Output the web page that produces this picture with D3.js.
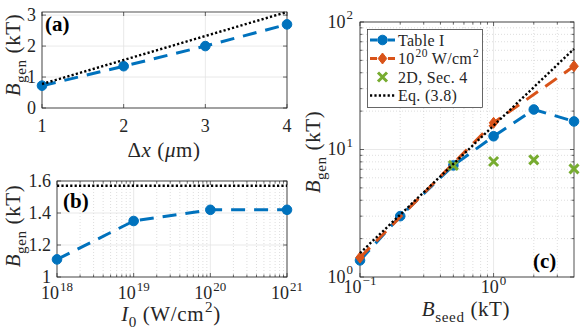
<!DOCTYPE html>
<html>
<head>
<meta charset="utf-8">
<script src="https://cdn.jsdelivr.net/npm/d3@7"></script>
<style>
  body { margin: 0; background: #fff; }
</style>
</head>
<body>
<div class="root"></div>
<script>
// panel (a): B_gen vs grid spacing
var dxVals = [1, 2, 3, 4],
    bgenDx = [0.72, 1.35, 2.0, 2.7],
    eqDx = [0.775, 1.55, 2.325, 3.1];

// panel (b): B_gen vs intensity
var intensity = [1e18, 1e19, 1e20, 1e21],
    bgenI = [1.11, 1.35, 1.42, 1.42],
    eqI = 1.57;

// panel (c): B_gen vs B_seed
var bseed = [0.1, 0.2, 0.5, 1, 2, 4],
    tableI = [1.35, 3.0, 7.5, 12.7, 20.6, 16.6],
    bseedHi = [0.1, 1, 4],
    hiI = [1.42, 16.2, 45],
    bseed2d = [0.5, 1, 2, 4],
    sim2d = [7.5, 8.05, 8.3, 7.05],
    bseedEq = [0.1, 4],
    eqSeed = [1.54, 61.6];

var ticksA = {x: [1, 2, 3, 4], y: [0, 1, 2, 3]},
    ticksB = {x: [1e18, 1e19, 1e20, 1e21], y: [1, 1.2, 1.4, 1.6]},
    ticksC = {x: [0.1, 1], y: [1, 10, 100]};

var legendNames = [
  [{t: "Table I"}],
  [{t: "10"}, {t: "20", sup: true}, {t: " W/cm"}, {t: "2", sup: true}],
  [{t: "2D, Sec. 4"}],
  [{t: "Eq. (3.8)"}]
];

var blue = "#0072BD", orange = "#D95319", green = "#77AC30",
    axisCol = "#262626", gridCol = "#e3e3e3", minorCol = "#c8c8c8",
    serif = "'Liberation Serif'";

var svg = d3.select(".root").append("svg")
  .attr("width", 582).attr("height", 332);

// text with italic / sub / sup runs
function mtext(g, x, y, parts, size, anchor) {
  var t = g.append("text").attr("x", x).attr("y", y)
    .attr("font-family", serif)
    .attr("font-size", size).attr("fill", axisCol)
    .attr("text-anchor", anchor || "middle");
  var shift = 0;
  parts.forEach(function(p) {
    var target = p.sub ? size * 0.28 : p.sup ? -size * 0.45 : 0;
    var s = t.append("tspan").text(p.t).attr("dy", target - shift);
    shift = target;
    if (p.i) s.attr("font-style", "italic");
    if (p.sub || p.sup) s.attr("font-size", size * 0.72);
    if (p.sup) s.attr("dx", 1);
  });
  return t;
}

function logMinor(dom) {
  var out = [];
  var lo = Math.floor(Math.log10(dom[0])), hi = Math.ceil(Math.log10(dom[1]));
  for (var e = lo; e < hi; e++)
    for (var k = 2; k <= 9; k++) {
      var v = k * Math.pow(10, e);
      if (v > dom[0] && v < dom[1]) out.push(v);
    }
  return out;
}

function frame(g, x, y, tx, ty, minX, minY) {
  var x0 = x.range()[0], x1 = x.range()[1], y0 = y.range()[0], y1 = y.range()[1];
  // minor grid
  g.selectAll(".mgx").data(minX).enter().append("line")
    .attr("x1", d => x(d)).attr("x2", d => x(d)).attr("y1", y0).attr("y2", y1)
    .attr("stroke", minorCol).attr("stroke-width", 0.6).attr("stroke-dasharray", "1,2");
  g.selectAll(".mgy").data(minY).enter().append("line")
    .attr("y1", d => y(d)).attr("y2", d => y(d)).attr("x1", x0).attr("x2", x1)
    .attr("stroke", minorCol).attr("stroke-width", 0.6).attr("stroke-dasharray", "1,2");
  // major grid
  g.selectAll(".gx").data(tx).enter().append("line")
    .attr("x1", d => x(d)).attr("x2", d => x(d)).attr("y1", y0).attr("y2", y1)
    .attr("stroke", gridCol).attr("stroke-width", 0.8);
  g.selectAll(".gy").data(ty).enter().append("line")
    .attr("y1", d => y(d)).attr("y2", d => y(d)).attr("x1", x0).attr("x2", x1)
    .attr("stroke", gridCol).attr("stroke-width", 0.8);
  // ticks on all four sides
  var tk = g.append("g").attr("stroke", axisCol).attr("stroke-width", 0.7);
  tx.concat(minX).forEach(function(d, i) {
    var L = i < tx.length ? 4 : 2.5;
    tk.append("line").attr("x1", x(d)).attr("x2", x(d)).attr("y1", y0).attr("y2", y0 - L);
    tk.append("line").attr("x1", x(d)).attr("x2", x(d)).attr("y1", y1).attr("y2", y1 + L);
  });
  ty.concat(minY).forEach(function(d, i) {
    var L = i < ty.length ? 4 : 2.5;
    tk.append("line").attr("y1", y(d)).attr("y2", y(d)).attr("x1", x0).attr("x2", x0 + L);
    tk.append("line").attr("y1", y(d)).attr("y2", y(d)).attr("x1", x1).attr("x2", x1 - L);
  });
  g.append("rect").attr("x", x0).attr("y", y1).attr("width", x1 - x0).attr("height", y0 - y1)
    .attr("fill", "none").attr("stroke", axisCol).attr("stroke-width", 0.8);
}

function dashed(g, x, y, xs, ys, col) {
  var line = d3.line().x(d => x(d[0])).y(d => y(d[1]));
  g.append("path").datum(d3.zip(xs, ys)).attr("d", line)
    .attr("fill", "none").attr("stroke", col).attr("stroke-width", 3)
    .attr("stroke-dasharray", "14,9");
}
function dotted(g, x, y, xs, ys) {
  var line = d3.line().x(d => x(d[0])).y(d => y(d[1]));
  g.append("path").datum(d3.zip(xs, ys)).attr("d", line)
    .attr("fill", "none").attr("stroke", "#000").attr("stroke-width", 2.4)
    .attr("stroke-dasharray", "2.2,2.2");
}
function circles(g, x, y, xs, ys) {
  g.selectAll(null).data(d3.zip(xs, ys)).enter().append("circle")
    .attr("cx", d => x(d[0])).attr("cy", d => y(d[1])).attr("r", 4.8)
    .attr("fill", blue).attr("stroke", blue);
}
function diamonds(g, x, y, xs, ys) {
  g.selectAll(null).data(d3.zip(xs, ys)).enter().append("path")
    .attr("d", "M0,-5.5L4.3,0L0,5.5L-4.3,0Z")
    .attr("transform", d => "translate(" + x(d[0]) + "," + y(d[1]) + ")")
    .attr("fill", orange).attr("stroke", orange);
}
function crosses(g, x, y, xs, ys) {
  g.selectAll(null).data(d3.zip(xs, ys)).enter().append("path")
    .attr("d", "M-4.5,-4.5L4.5,4.5M-4.5,4.5L4.5,-4.5")
    .attr("transform", d => "translate(" + x(d[0]) + "," + y(d[1]) + ")")
    .attr("stroke", green).attr("stroke-width", 3).attr("fill", "none");
}
function ylabel(x, y, parts) {
  var g = svg.append("g").attr("transform", "translate(" + x + "," + y + ") rotate(-90)");
  mtext(g, 0, 0, parts, 21).attr("letter-spacing", 0.6);
}
var bgenParts = [{t: "B", i: true}, {t: "gen", sub: true}, {t: " (kT)"}];
var pow10 = d => [{t: "10"}, {t: String(Math.round(Math.log10(d))).replace("-", "\u2212"), sup: true}];

// ---------- (a) ----------
var xa = d3.scaleLinear().domain([1, 4]).range([42, 287]),
    ya = d3.scaleLinear().domain([0, 3.1]).range([108, 12]);
var ga = svg.append("g");
frame(ga, xa, ya, ticksA.x, ticksA.y, [], []);
dashed(ga, xa, ya, dxVals, bgenDx, blue);
circles(ga, xa, ya, dxVals, bgenDx);
dotted(ga, xa, ya, dxVals, eqDx);
ticksA.x.forEach(d => mtext(ga, xa(d), 132, [{t: String(d)}], 18));
ticksA.y.forEach(d => mtext(ga, 36, ya(d) + 5.5, [{t: String(d)}], 18, "end"));
mtext(ga, 164, 157, [{t: "\u0394"}, {t: "x", i: true}, {t: " ("}, {t: "\u03bc", i: true}, {t: "m)"}], 21)
  .attr("letter-spacing", 0.6);
ylabel(20, 55, bgenParts);
mtext(ga, 45, 31, [{t: "(a)"}], 21, "start").attr("font-weight", "bold").attr("fill", "#000");

// ---------- (b) ----------
var xb = d3.scaleLog().domain([1e18, 1e21]).range([57, 287]),
    yb = d3.scaleLinear().domain([1, 1.6]).range([277, 181]);
var gb = svg.append("g");
frame(gb, xb, yb, ticksB.x, ticksB.y, logMinor(xb.domain()), []);
dashed(gb, xb, yb, intensity, bgenI, blue);
circles(gb, xb, yb, intensity, bgenI);
dotted(gb, xb, yb, [1e18, 1e21], [eqI, eqI]);
ticksB.x.forEach(d => mtext(gb, xb(d), 299, pow10(d), 18));
ticksB.y.forEach(d => mtext(gb, 51, yb(d) + 5.5, [{t: d3.format("")(+d.toFixed(1))}], 18, "end"));
mtext(gb, 171, 321, [{t: "I", i: true}, {t: "0", sub: true}, {t: " (W/cm"}, {t: "2", sup: true}, {t: ")"}], 21)
  .attr("letter-spacing", 0.6);
ylabel(20, 226, bgenParts);
mtext(gb, 63, 208, [{t: "(b)"}], 21, "start").attr("font-weight", "bold").attr("fill", "#000");

// ---------- (c) ----------
var xc = d3.scaleLog().domain([0.1, 4]).range([360, 574]),
    yc = d3.scaleLog().domain([1, 100]).range([277, 22]);
var gc = svg.append("g");
frame(gc, xc, yc, ticksC.x, ticksC.y, logMinor(xc.domain()), logMinor(yc.domain()));
dashed(gc, xc, yc, bseed, tableI, blue);
circles(gc, xc, yc, bseed, tableI);
dashed(gc, xc, yc, bseedHi, hiI, orange);
diamonds(gc, xc, yc, bseedHi, hiI);
crosses(gc, xc, yc, bseed2d, sim2d);
dotted(gc, xc, yc, bseedEq, eqSeed);
ticksC.x.forEach(d => mtext(gc, xc(d), 293, pow10(d), 18));
ticksC.y.forEach(d => mtext(gc, 353, yc(d) + 5.5, pow10(d), 18, "end"));
mtext(gc, 466, 316, [{t: "B", i: true}, {t: "seed", sub: true}, {t: " (kT)"}], 21)
  .attr("letter-spacing", 0.6);
ylabel(320, 152, bgenParts);
mtext(gc, 533, 268, [{t: "(c)"}], 21, "start").attr("font-weight", "bold").attr("fill", "#000");

// legend
var lg = gc.append("g");
lg.append("rect").attr("x", 367.5).attr("y", 29.5).attr("width", 115).attr("height", 78)
  .attr("fill", "#fff").attr("stroke", axisCol).attr("stroke-width", 0.7);
var rowY = d3.scalePoint().domain(d3.range(legendNames.length)).range([40, 95.5]);
legendNames.forEach(function(parts, i) {
  var cy = rowY(i);
  var sx = d3.scaleLinear().domain([0, 1]).range([370, 395]);
  var sy = d3.scaleLinear().domain([0, 1]).range([cy, cy]);
  if (i === 0 || i === 1) {
    lg.append("line").attr("x1", 370).attr("x2", 395).attr("y1", cy).attr("y2", cy)
      .attr("stroke", i ? orange : blue).attr("stroke-width", 3).attr("stroke-dasharray", "7,11");
    if (i === 0) circles(lg, sx, sy, [0.5], [0]);
    else diamonds(lg, sx, sy, [0.5], [0]);
  } else if (i === 2) {
    crosses(lg, sx, sy, [0.5], [0]);
  } else {
    dotted(lg, sx, sy, [0, 1], [0, 0]);
  }
  mtext(lg, 398, cy + 5.5, parts, 16, "start").attr("letter-spacing", 0.3);
});
</script>
</body>
</html>
